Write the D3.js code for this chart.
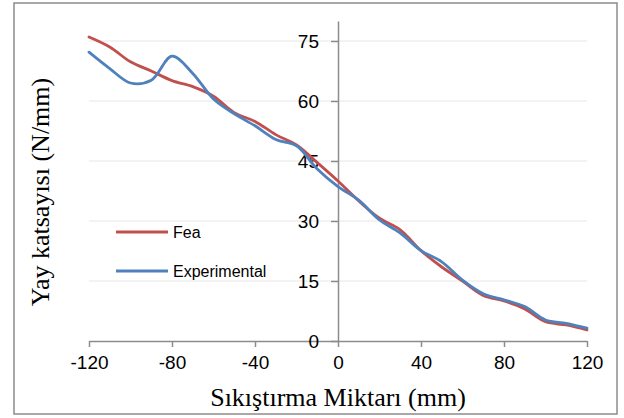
<!DOCTYPE html>
<html>
<head>
<meta charset="utf-8">
<script src="https://cdn.jsdelivr.net/npm/d3@7"></script>
<style>
  html, body { margin: 0; padding: 0; background: #fff; }
  svg { display: block; }
</style>
</head>
<body>
<svg id="chart" width="624" height="418"></svg>
<script>
// Compression amount (mm)
const compression = [-120, -110, -100, -90, -80, -70, -60, -50, -40, -30, -20, -10,
  0, 10, 20, 30, 40, 50, 60, 70, 80, 90, 100, 110, 120];
// Spring rate from finite element analysis (N/mm)
const feaValues = [76, 73.5, 69.8, 67.5, 65.1, 63.6, 61.2, 57.1, 54.9, 51.6, 49, 44.6,
  40, 35, 30.7, 27.8, 22.6, 18.5, 15, 11.4, 10, 8, 4.8, 4, 2.75];
// Spring rate measured in the test rig (N/mm)
const experimentalValues = [72.2, 68.1, 64.5, 65.2, 71.2, 66.9, 60.5, 56.8, 53.8, 50.4, 48.8, 43,
  38.6, 35.2, 30.25, 27, 22.6, 19.8, 15.2, 11.8, 10.3, 8.6, 5.25, 4.4, 3.2];
const xTicks = [-120, -80, -40, 0, 40, 80, 120];
const yTicks = [0, 15, 30, 45, 60, 75];
const seriesNames = ["Fea", "Experimental"];

const series = [
  { name: seriesNames[0], values: feaValues, color: "#C0504D" },
  { name: seriesNames[1], values: experimentalValues, color: "#4F81BD" }
];

const svg = d3.select("#chart");

// outer frame
svg.append("rect")
  .attr("x", 14).attr("y", 3)
  .attr("width", 603).attr("height", 411)
  .attr("fill", "#fff")
  .attr("stroke", "#8c8c8c")
  .attr("stroke-width", 1.5);

const x = d3.scaleLinear().domain([-120, 120]).range([89, 587]);
const y = d3.scaleLinear().domain([0, 80]).range([341, 21]);

// plain hyphen-minus labels
const plain = d => String(d);

// horizontal gridlines
svg.append("g")
  .selectAll("line")
  .data(yTicks.filter(d => d !== 0))
  .join("line")
  .attr("x1", x(-120)).attr("x2", x(120))
  .attr("y1", d => y(d)).attr("y2", d => y(d))
  .attr("stroke", "#efefef")
  .attr("stroke-width", 1.5);

// x axis along y = 0
const xAxis = svg.append("g")
  .attr("transform", `translate(0,${y(0)})`)
  .call(d3.axisBottom(x).tickValues(xTicks).tickFormat(plain)
    .tickSize(6).tickPadding(9).tickSizeOuter(0));
xAxis.select(".domain").attr("stroke", "#8c8c8c").attr("stroke-width", 1.5);
xAxis.selectAll(".tick line").attr("stroke", "#8c8c8c").attr("stroke-width", 1.5);
xAxis.selectAll(".tick text")
  .attr("font-family", "'Liberation Sans', Arial, sans-serif")
  .attr("font-size", 19)
  .attr("fill", "#000");

// y axis crossing at x = 0
const yAxis = svg.append("g")
  .attr("transform", `translate(${x(0)},0)`)
  .call(d3.axisLeft(y).tickValues(yTicks).tickFormat(plain)
    .tickSize(7).tickPadding(12).tickSizeOuter(0));
yAxis.select(".domain").attr("stroke", "#8c8c8c").attr("stroke-width", 1.5);
yAxis.selectAll(".tick line").attr("stroke", "#8c8c8c").attr("stroke-width", 1.5);
yAxis.selectAll(".tick text")
  .attr("font-family", "'Liberation Sans', Arial, sans-serif")
  .attr("font-size", 19)
  .attr("fill", "#000");

// smoothed series lines
const line = d3.line()
  .x((d, i) => x(compression[i]))
  .y(d => y(d))
  .curve(d3.curveCatmullRom.alpha(0.5));

svg.append("g")
  .selectAll("path")
  .data(series)
  .join("path")
  .attr("d", d => line(d.values))
  .attr("fill", "none")
  .attr("stroke", d => d.color)
  .attr("stroke-width", 2.8)
  .attr("stroke-linejoin", "round")
  .attr("stroke-linecap", "round");

// legend
const legend = svg.append("g")
  .selectAll("g")
  .data(series)
  .join("g")
  .attr("transform", (d, i) => `translate(116,${232 + i * 39})`);
legend.append("line")
  .attr("x1", 0).attr("x2", 52)
  .attr("stroke", d => d.color)
  .attr("stroke-width", 2.8);
legend.append("text")
  .attr("x", 57).attr("y", 5.5)
  .attr("font-family", "'Liberation Sans', Arial, sans-serif")
  .attr("font-size", 16)
  .attr("fill", "#000")
  .text(d => d.name);

// axis titles
svg.append("text")
  .attr("x", x(0)).attr("y", 406)
  .attr("text-anchor", "middle")
  .attr("font-family", "'Liberation Serif', 'Times New Roman', serif")
  .attr("font-size", 26)
  .attr("fill", "#000")
  .text("Sıkıştırma Miktarı (mm)");

svg.append("text")
  .attr("transform", "translate(49,192) rotate(-90)")
  .attr("text-anchor", "middle")
  .attr("font-family", "'Liberation Serif', 'Times New Roman', serif")
  .attr("font-size", 26)
  .attr("fill", "#000")
  .text("Yay katsayısı (N/mm)");
</script>
</body>
</html>
